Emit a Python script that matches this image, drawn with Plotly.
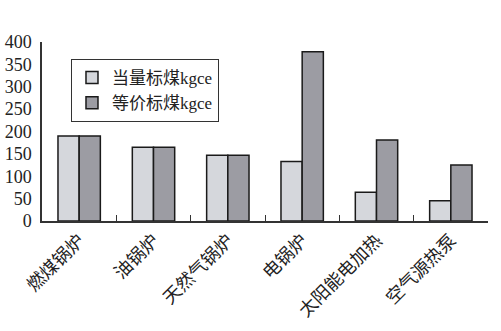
import plotly.graph_objects as go

categories = ["燃煤锅炉", "油锅炉", "天然气锅炉", "电锅炉", "太阳能电加热", "空气源热泵"]
equiv_values = [190, 165, 147, 133, 64, 45]
price_values = [190, 165, 147, 378, 181, 125]
series_names = ["当量标煤kgce", "等价标煤kgce"]
y_ticks = [0, 50, 100, 150, 200, 250, 300, 350, 400]

FONT = "Liberation Serif, Noto Sans CJK SC, serif"

fig = go.Figure()
fig.add_trace(go.Bar(x=categories, y=equiv_values, name=series_names[0],
                     marker=dict(color="#d5d7dc", line=dict(color="#1a1a1a", width=1.5))))
fig.add_trace(go.Bar(x=categories, y=price_values, name=series_names[1],
                     marker=dict(color="#9c9ca3", line=dict(color="#1a1a1a", width=1.5))))

fig.update_layout(
    width=501, height=331,
    margin=dict(l=42, r=13, t=42, b=110),
    paper_bgcolor="white", plot_bgcolor="white",
    barmode="group", bargap=0.43, bargroupgap=0,
    font=dict(family=FONT, size=17, color="#222"),
    showlegend=True,
    legend=dict(x=0.065, y=0.905, xanchor="left", yanchor="top",
                bgcolor="white", bordercolor="#333", borderwidth=1,
                font=dict(family=FONT, size=17, color="#222"),
                itemwidth=30, tracegroupgap=0),
    xaxis=dict(showline=True, linecolor="#333", linewidth=1.5, automargin=False,
               ticks="inside", tickson="boundaries", ticklen=6, tickcolor="#333",
               tickangle=-45, tickfont=dict(family=FONT, size=18, color="#222"),
               showgrid=False),
    yaxis=dict(range=[0, 400], tickvals=y_ticks, showline=True, linecolor="#333",
               linewidth=1.5, ticks="", showgrid=False, zeroline=False,
               ticklabelstandoff=5, automargin=False,
               tickfont=dict(family=FONT, size=18, color="#222")),
)

fig.write_html("out.html")
